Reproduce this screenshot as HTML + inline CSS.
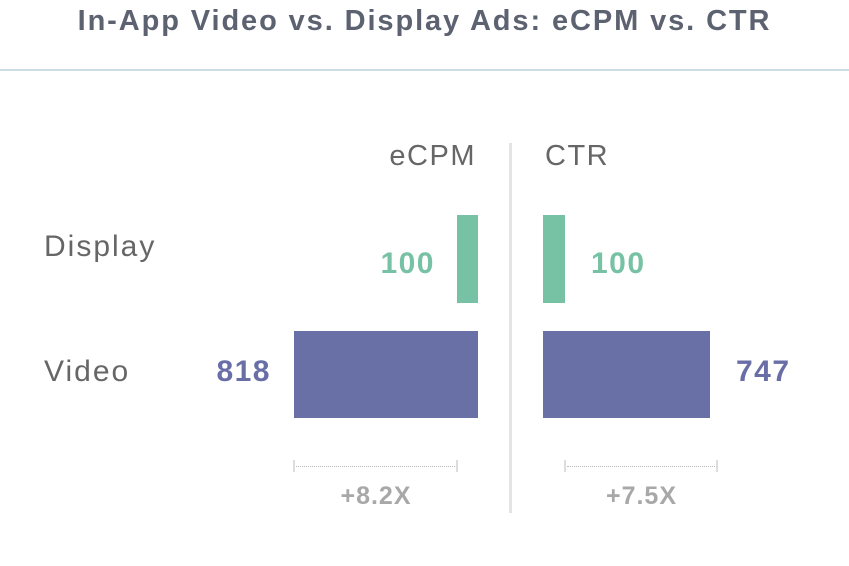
<!DOCTYPE html>
<html><head><meta charset="utf-8"><style>
body{margin:0;width:849px;height:566px;background:#fff;overflow:hidden;position:relative;font-family:"Liberation Sans","DejaVu Sans",sans-serif}
div{position:absolute}
.t{white-space:nowrap}
</style></head><body>
<div class="t" style="left:0;width:849px;top:5px;text-align:center;font-size:29px;font-weight:bold;color:#5d6271;letter-spacing:1.9px">In-App Video vs. Display Ads: eCPM vs. CTR</div>
<div style="left:0;top:69px;width:849px;height:2px;background:#cddbe4"></div>
<div style="left:509px;top:143px;width:3px;height:370px;background:#e4e4e4"></div>
<div class="t" style="right:373px;top:140px;font-size:29px;color:#666;letter-spacing:1.5px">eCPM</div>
<div class="t" style="left:545px;top:140px;font-size:29px;color:#666;letter-spacing:1.5px">CTR</div>
<div class="t" style="left:44px;top:230px;font-size:30px;color:#666;letter-spacing:2px">Display</div>
<div class="t" style="left:44px;top:355px;font-size:30px;color:#666;letter-spacing:2px">Video</div>
<div style="left:457px;top:215px;width:21px;height:88px;background:#77c1a4"></div>
<div style="left:543px;top:215px;width:22px;height:88px;background:#77c1a4"></div>
<div style="left:294px;top:331px;width:184px;height:87px;background:#6970a6"></div>
<div style="left:543px;top:331px;width:167px;height:87px;background:#6970a6"></div>
<div class="t" style="right:414px;top:247px;font-size:30px;font-weight:bold;color:#77c1a4;letter-spacing:1.5px">100</div>
<div class="t" style="left:591px;top:247px;font-size:30px;font-weight:bold;color:#77c1a4;letter-spacing:1.5px">100</div>
<div class="t" style="right:578px;top:355px;font-size:30px;font-weight:bold;color:#6a6ea6;letter-spacing:1.5px">818</div>
<div class="t" style="left:736px;top:355px;font-size:30px;font-weight:bold;color:#6a6ea6;letter-spacing:1.5px">747</div>
<div style="left:293px;top:460px;width:2px;height:12px;background:#ddd"></div>
<div style="left:456px;top:460px;width:2px;height:12px;background:#ddd"></div>
<div style="left:296px;top:466px;width:159px;border-top:1px dotted #bbb"></div>
<div style="left:564px;top:460px;width:2px;height:12px;background:#ddd"></div>
<div style="left:716px;top:460px;width:2px;height:12px;background:#ddd"></div>
<div style="left:567px;top:466px;width:148px;border-top:1px dotted #bbb"></div>
<div class="t" style="left:294px;width:164px;top:482px;text-align:center;font-size:25px;font-weight:bold;color:#a8a8a8;letter-spacing:1px">+8.2X</div>
<div class="t" style="left:565px;width:153px;top:482px;text-align:center;font-size:25px;font-weight:bold;color:#a8a8a8;letter-spacing:1px">+7.5X</div>
</body></html>
